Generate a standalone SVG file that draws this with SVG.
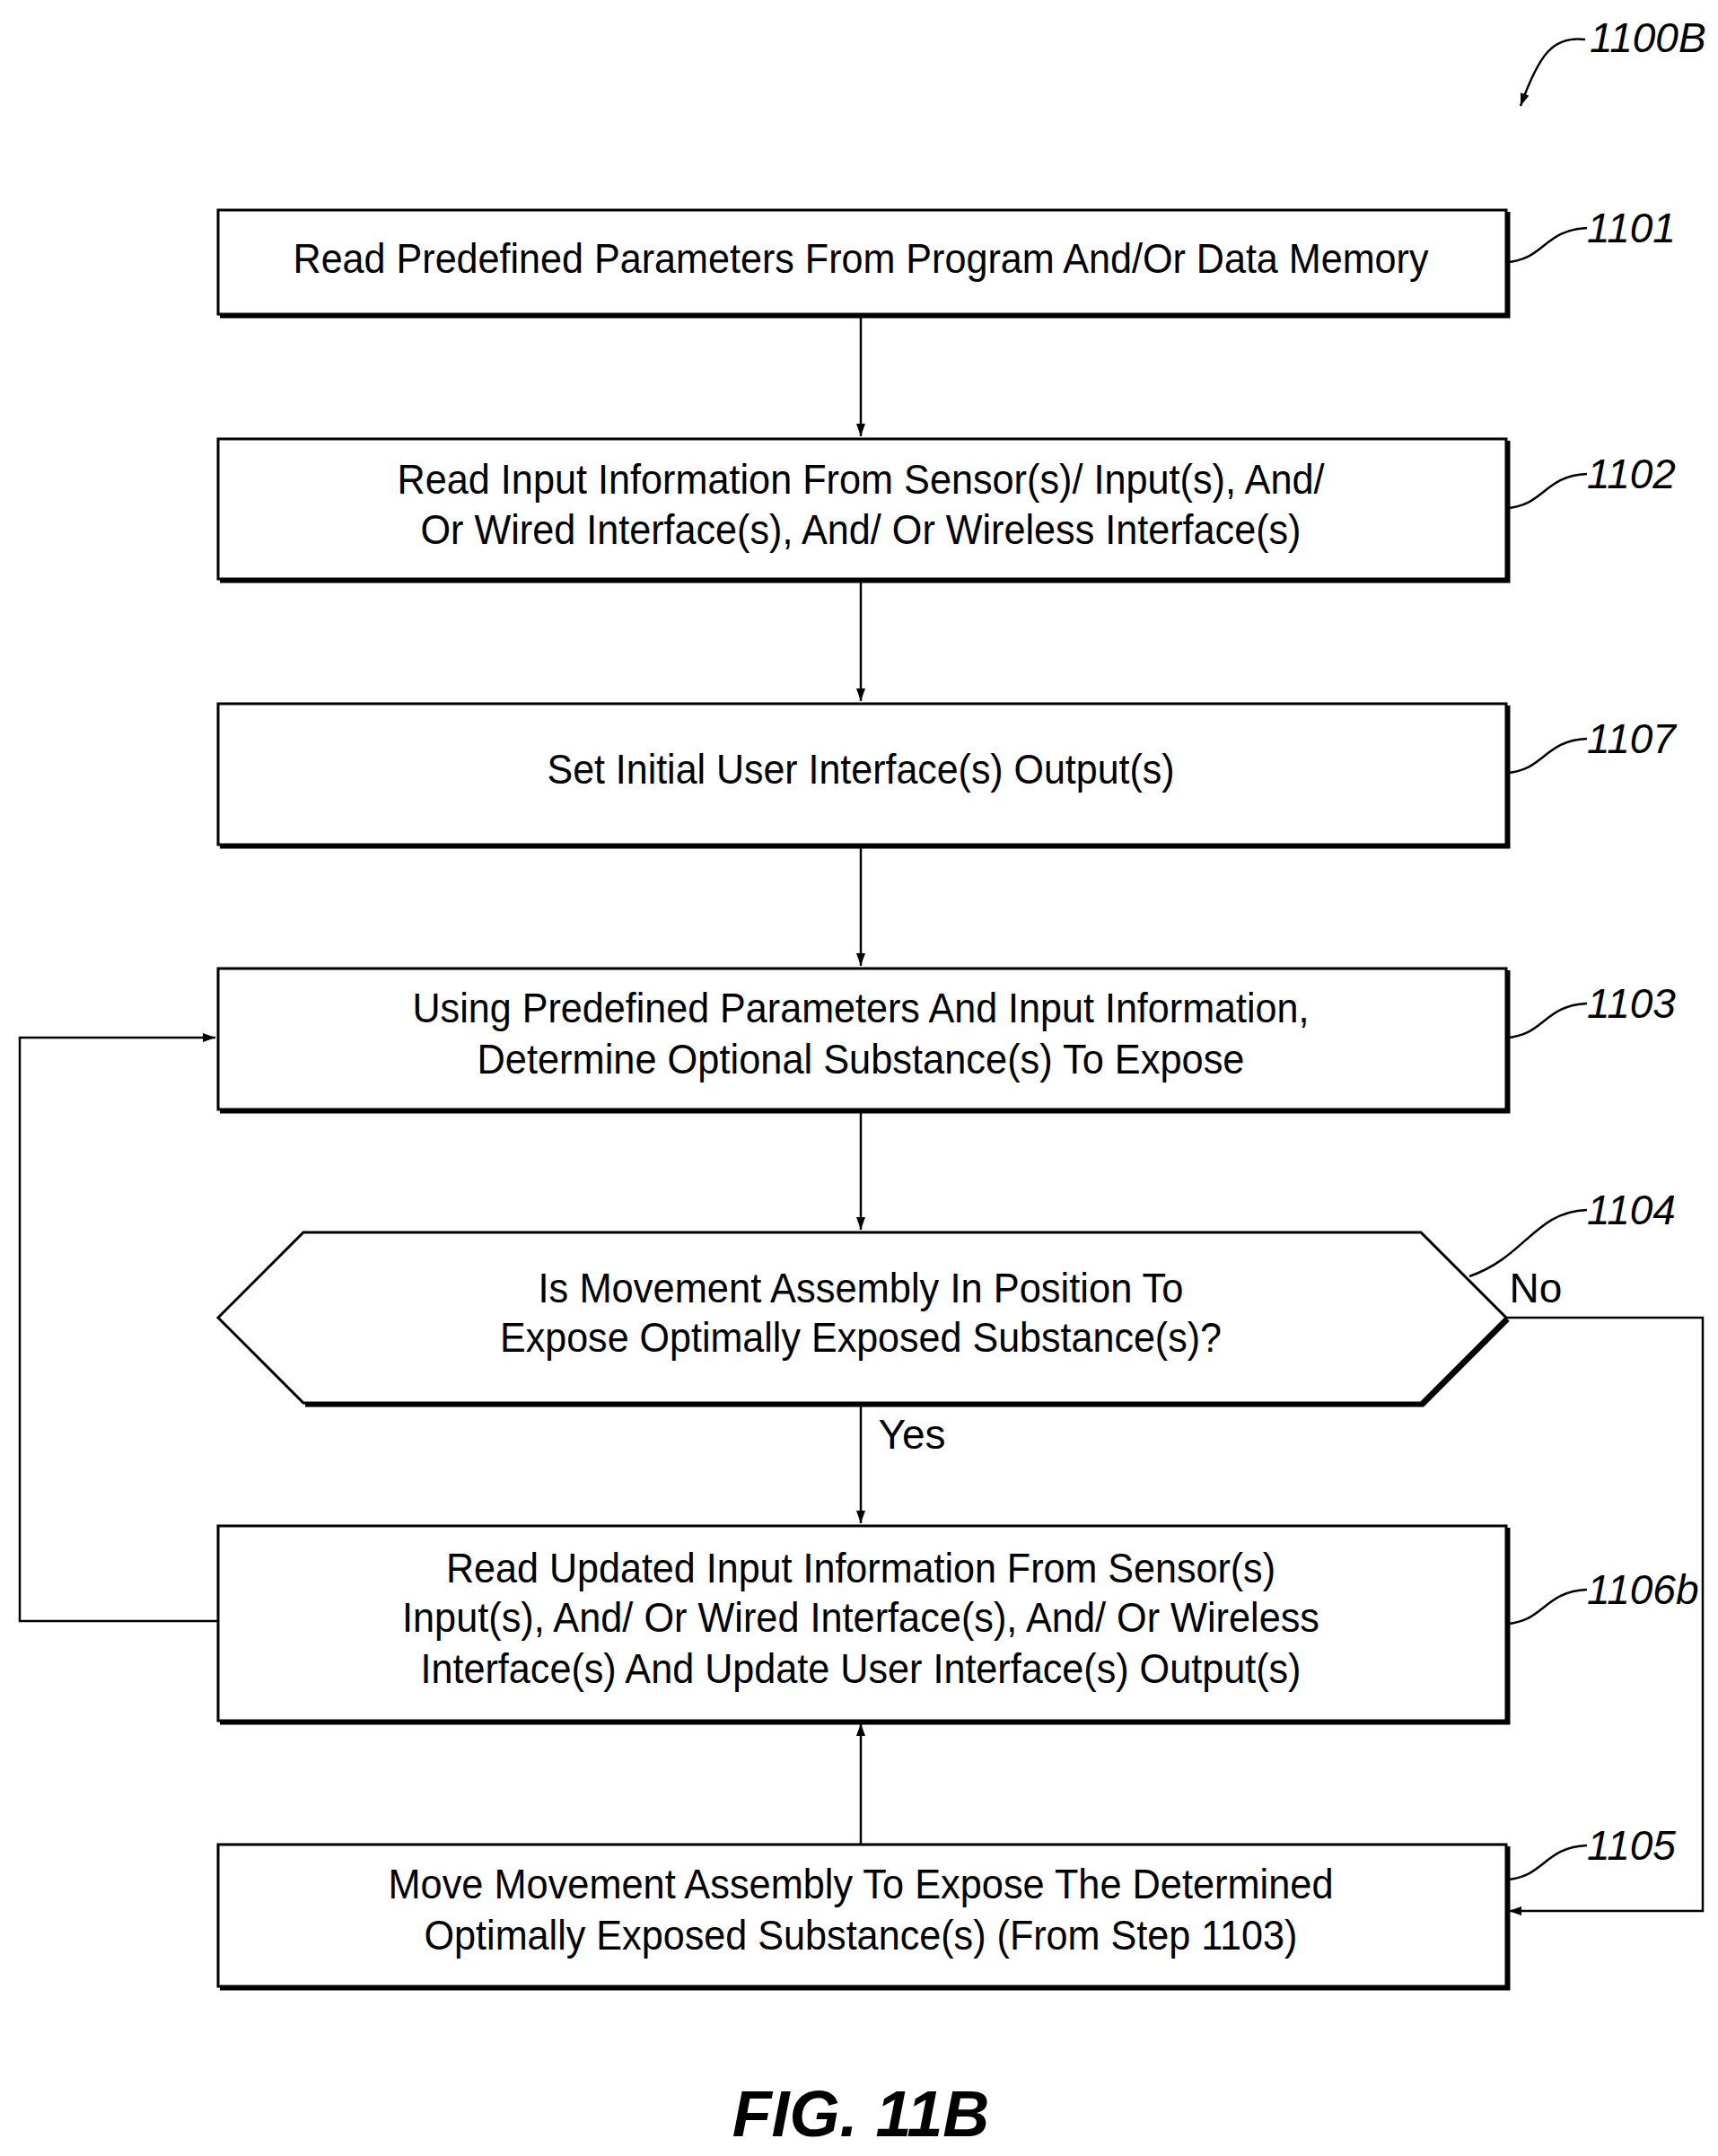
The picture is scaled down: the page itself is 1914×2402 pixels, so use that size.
<svg xmlns="http://www.w3.org/2000/svg" width="1914" height="2402" viewBox="0 0 1914 2402">
<style>
.b{fill:#fff;stroke:#000;stroke-width:3}
.s{fill:none;stroke:#000;stroke-width:5}
.t{font-family:"Liberation Sans",Arial,sans-serif;font-size:46px;text-anchor:middle;fill:#000}
.l{font-family:"Liberation Sans",Arial,sans-serif;font-size:46px;font-style:italic;fill:#000}
.c{fill:none;stroke:#000;stroke-width:2.5}
</style>
<defs><marker id="a" markerWidth="14" markerHeight="28" refX="14" refY="7" orient="auto" markerUnits="userSpaceOnUse" viewBox="0 0 14 14"><path d="M0,2 L14,7 L0,12 Z" fill="#000"/></marker></defs>
<g id="fig-label"><path class="c" d="M1766,44 C1730,40 1715,60 1694,118" marker-end="url(#a)"/><text class="l" x="1771" y="58">1100B</text></g>
<g id="n1101"><path class="s" d="M245,352 H1680 V236"/><rect class="b" x="243" y="234" width="1435" height="116"/><text class="t" x="959" y="304" textLength="1265" lengthAdjust="spacingAndGlyphs">Read Predefined Parameters From Program And/Or Data Memory</text><path class="c" d="M1678,292 C1720,290 1720,256 1768,254"/><text class="l" x="1768" y="270">1101</text></g>
<g id="n1102"><path class="s" d="M245,647 H1680 V491"/><rect class="b" x="243" y="489" width="1435" height="156"/><text class="t" x="959" y="550" textLength="1033" lengthAdjust="spacingAndGlyphs">Read Input Information From Sensor(s)/ Input(s), And/</text><text class="t" x="959" y="606" textLength="981" lengthAdjust="spacingAndGlyphs">Or Wired Interface(s), And/ Or Wireless Interface(s)</text><path class="c" d="M1678,566 C1720,564 1720,530 1768,528"/><text class="l" x="1768" y="544">1102</text></g>
<g id="n1107"><path class="s" d="M245,943 H1680 V786"/><rect class="b" x="243" y="784" width="1435" height="157"/><text class="t" x="959" y="873" textLength="699" lengthAdjust="spacingAndGlyphs">Set Initial User Interface(s) Output(s)</text><path class="c" d="M1678,861 C1720,859 1720,825 1768,823"/><text class="l" x="1768" y="839">1107</text></g>
<g id="n1103"><path class="s" d="M245,1238 H1680 V1081"/><rect class="b" x="243" y="1079" width="1435" height="157"/><text class="t" x="959" y="1139" textLength="999" lengthAdjust="spacingAndGlyphs">Using Predefined Parameters And Input Information,</text><text class="t" x="959" y="1196" textLength="855" lengthAdjust="spacingAndGlyphs">Determine Optional Substance(s) To Expose</text><path class="c" d="M1678,1156 C1720,1154 1720,1120 1768,1118"/><text class="l" x="1768" y="1134">1103</text></g>
<g id="n1104"><path class="s" d="M340,1565 H1585 L1680,1470"/><polygon class="b" points="243,1468 338,1373 1583,1373 1678,1468 1583,1563 338,1563"/><text class="t" x="959" y="1451" textLength="719" lengthAdjust="spacingAndGlyphs">Is Movement Assembly In Position To</text><text class="t" x="959" y="1506" textLength="804" lengthAdjust="spacingAndGlyphs">Expose Optimally Exposed Substance(s)?</text><path class="c" d="M1637,1422 C1700,1400 1710,1350 1768,1348"/><text class="l" x="1768" y="1364">1104</text></g>
<g id="n1106b"><path class="s" d="M245,1919 H1680 V1702"/><rect class="b" x="243" y="1700" width="1435" height="217"/><text class="t" x="959" y="1763" textLength="924" lengthAdjust="spacingAndGlyphs">Read Updated Input Information From Sensor(s)</text><text class="t" x="959" y="1818" textLength="1022" lengthAdjust="spacingAndGlyphs">Input(s), And/ Or Wired Interface(s), And/ Or Wireless</text><text class="t" x="959" y="1875" textLength="981" lengthAdjust="spacingAndGlyphs">Interface(s) And Update User Interface(s) Output(s)</text><path class="c" d="M1678,1809 C1720,1807 1720,1773 1768,1771"/><text class="l" x="1768" y="1787">1106b</text></g>
<g id="n1105"><path class="s" d="M245,2215 H1680 V2057"/><rect class="b" x="243" y="2055" width="1435" height="158"/><text class="t" x="959" y="2115" textLength="1053" lengthAdjust="spacingAndGlyphs">Move Movement Assembly To Expose The Determined</text><text class="t" x="959" y="2172" textLength="973" lengthAdjust="spacingAndGlyphs">Optimally Exposed Substance(s) (From Step 1103)</text><path class="c" d="M1678,2094 C1720,2092 1720,2058 1768,2056"/><text class="l" x="1768" y="2072">1105</text></g>
<g id="connectors">
<path class="c" d="M959,352 V486" marker-end="url(#a)"/>
<path class="c" d="M959,647 V781" marker-end="url(#a)"/>
<path class="c" d="M959,943 V1076" marker-end="url(#a)"/>
<path class="c" d="M959,1238 V1370" marker-end="url(#a)"/>
<path class="c" d="M959,1566 V1697" marker-end="url(#a)"/>
<text class="t" x="1016" y="1614">Yes</text>
<path class="c" d="M1678,1468 H1897 V2129 H1681" marker-end="url(#a)"/>
<text class="t" x="1711" y="1451">No</text>
<path class="c" d="M959,2055 V1920" marker-end="url(#a)"/>
<path class="c" d="M243,1806 H22 V1156 H240" marker-end="url(#a)"/>
</g>
<text x="959" y="2380" style="font-family:'Liberation Sans',Arial,sans-serif;font-size:72px;font-weight:bold;font-style:italic;text-anchor:middle">FIG. 11B</text>
</svg>
